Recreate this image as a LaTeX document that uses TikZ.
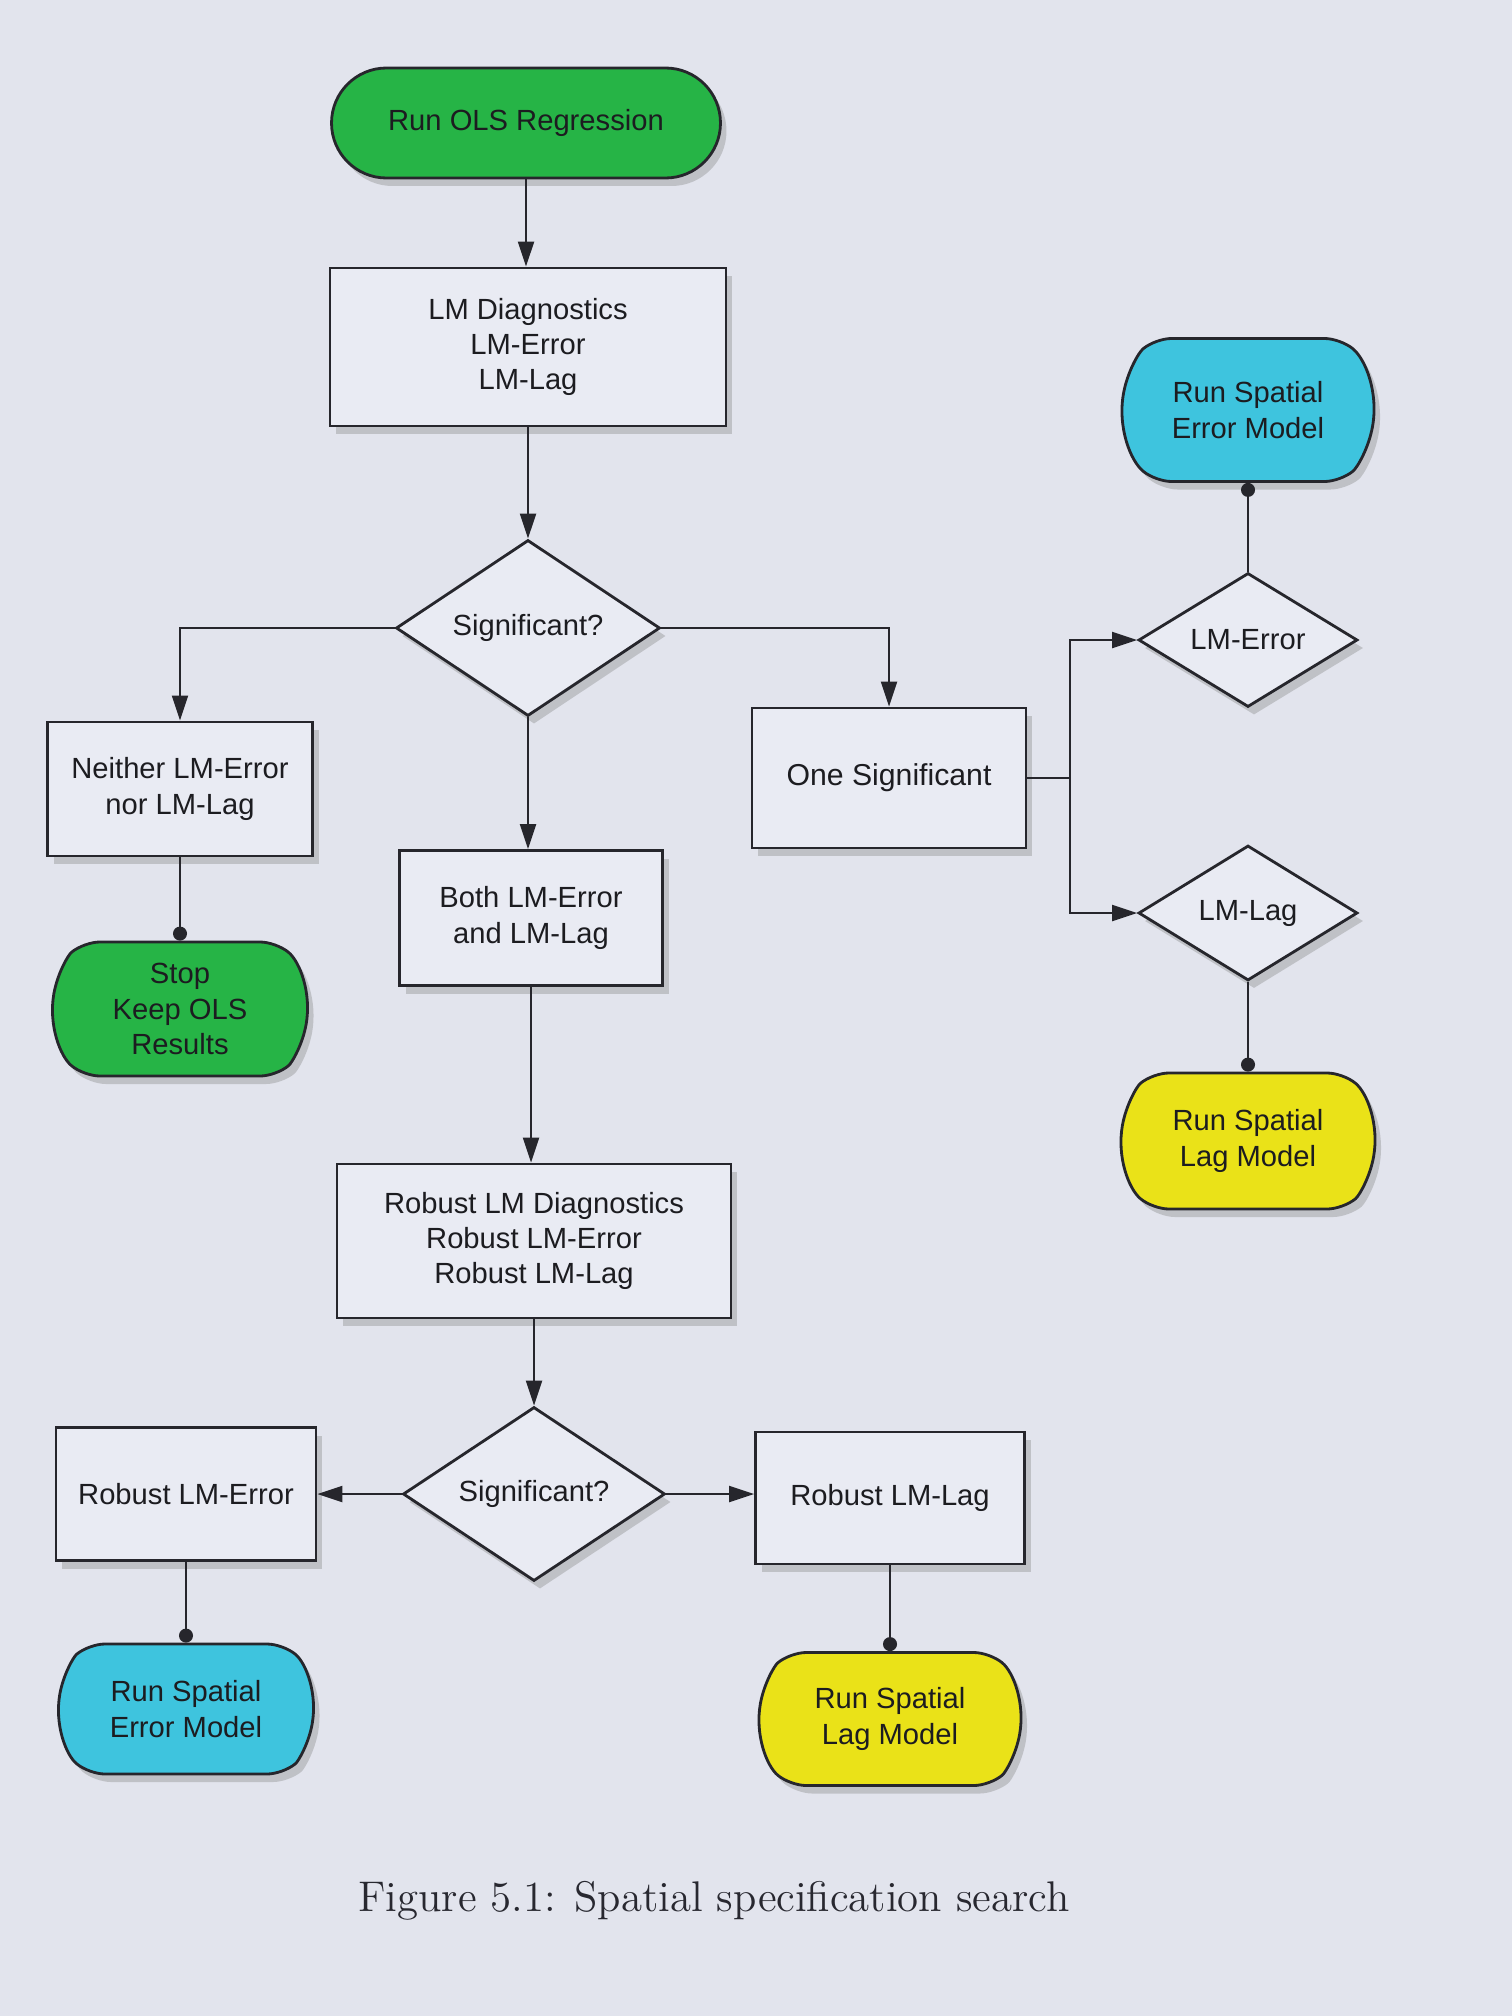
\documentclass[tikz,border=0pt]{standalone}
\usepackage{fontspec}
\newfontfamily\flowfont{Liberation Sans}
\usetikzlibrary{shapes.geometric,shapes.misc,arrows.meta,shadows}
\definecolor{pagebg}{RGB}{226,228,237}
\definecolor{boxfill}{RGB}{233,235,243}
\definecolor{okgreen}{RGB}{38,180,70}
\definecolor{semcyan}{RGB}{62,196,222}
\definecolor{slmyellow}{RGB}{234,226,24}
\definecolor{linec}{RGB}{38,38,44}
\definecolor{textc}{RGB}{28,28,32}
\definecolor{capc}{RGB}{40,40,48}
\begin{document}
\begin{tikzpicture}[x=0.1mm,y=-0.1mm,
  base/.style={draw=linec, line width=0.8pt, text=textc,
    font=\flowfont\fontsize{8.3}{10}\selectfont, align=center, inner sep=1pt,
    drop shadow={opacity=0.35,shadow xshift=0.6mm,shadow yshift=-0.8mm}},
  sz/.style 2 args={minimum width=#1mm, minimum height=#2mm},
  procbox/.style={base, rectangle, fill=boxfill},
  decision/.style={base, diamond, fill=boxfill, aspect=1.5},
  term/.style={base, rounded rectangle, rounded rectangle arc length=100, rounded corners=1.6mm},
  stadium/.style={base, rounded rectangle, rounded rectangle arc length=180, sharp corners},
  conn/.style={draw=linec, line width=0.6pt},
  arr/.style={conn, -{Triangle[length=2.5mm,width=1.6mm]}},
  dotend/.style={conn, -{Circle[length=1.4mm]}},
]
\fill[pagebg] (0,0) rectangle (1512,2016);
\useasboundingbox (0,0) rectangle (1512,2016);

% nodes
\node[stadium, fill=okgreen, sz={39.6}{11.0}] (ols) at (526,123) {Run OLS Regression};
\node[procbox, sz={39.6}{15.8}] (lmd) at (528,347) {LM Diagnostics\\LM-Error\\LM-Lag};
\node[decision, sz={26.4}{17.6}] (d1) at (528,628) {Significant?};
\node[procbox, sz={26.5}{13.4}] (nei) at (180,789) {Neither LM-Error\\nor LM-Lag};
\node[term, fill=okgreen, sz={26.2}{13.4}] (stop) at (180,1009) {Stop\\Keep OLS\\Results};
\node[procbox, sz={26.3}{13.5}] (both) at (531,918) {Both LM-Error\\and LM-Lag};
\node[procbox, sz={27.4}{14.0}, font=\flowfont\fontsize{8.6}{10}\selectfont] (one) at (889,778) {One Significant};
\node[decision, sz={21.9}{13.4}] (lme) at (1248,640) {LM-Error};
\node[term, fill=semcyan, sz={25.9}{14.3}] (sem1) at (1248,410) {Run Spatial\\Error Model};
\node[decision, sz={21.9}{13.5}] (lml) at (1248,913) {LM-Lag};
\node[term, fill=slmyellow, sz={26.1}{13.6}] (slm1) at (1248,1141) {Run Spatial\\Lag Model};
\node[procbox, sz={39.4}{15.4}] (rld) at (534,1241) {Robust LM Diagnostics\\Robust LM-Error\\Robust LM-Lag};
\node[decision, sz={26.2}{17.4}] (d2) at (534,1494) {Significant?};
\node[procbox, sz={26.0}{13.3}] (rle) at (186,1494) {Robust LM-Error};
\node[procbox, sz={26.9}{13.2}] (rll) at (890,1498) {Robust LM-Lag};
\node[term, fill=semcyan, sz={26.2}{13.0}] (sem2) at (186,1709) {Run Spatial\\Error Model};
\node[term, fill=slmyellow, sz={26.9}{13.3}] (slm2) at (890,1719) {Run Spatial\\Lag Model};

\node[text=capc, font=\fontsize{12.2}{14}\selectfont, inner sep=0pt] (cap) at (714,1901) {Figure 5.1: Spatial specification search};

% connectors
\coordinate (br) at (1070,778);
\draw[arr] (ols.south) -- (ols.south |- lmd.north);
\draw[arr] (lmd.south) -- (lmd.south |- d1.north);
\draw[arr] (d1.west) -| (nei.north);
\draw[arr] (d1.east) -| (one.north);
\draw[arr] (d1.south) -- (d1.south |- both.north);
\draw[dotend] (nei.south) -- (nei.south |- stop.north);
\draw[arr] (both.south) -- (both.south |- rld.north);
\draw[conn] (one.east) -- (br);
\draw[arr] (br) |- (lme.west);
\draw[arr] (br) |- (lml.west);
\draw[dotend] (lme.north) -- (lme.north |- sem1.south);
\draw[dotend] (lml.south) -- (lml.south |- slm1.north);
\draw[arr] (rld.south) -- (rld.south |- d2.north);
\draw[arr] (d2.west) -- (d2.west -| rle.east);
\draw[arr] (d2.east) -- (d2.east -| rll.west);
\draw[dotend] (rle.south) -- (rle.south |- sem2.north);
\draw[dotend] (rll.south) -- (rll.south |- slm2.north);
\end{tikzpicture}
\end{document}
